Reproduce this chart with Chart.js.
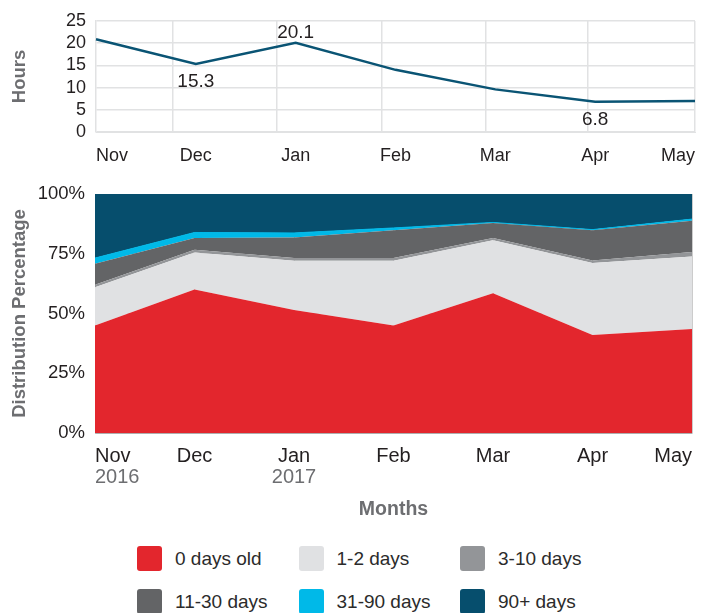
<!DOCTYPE html>
<html>
<head>
<meta charset="utf-8">
<script src="https://cdn.jsdelivr.net/npm/chart.js@4.4.0/dist/chart.umd.min.js"></script>
<style>
  body { margin: 0; background: #fff; width: 705px; height: 613px; overflow: hidden; position: relative; font-family: "Liberation Sans", Arial, sans-serif; }
  #hoursChart { position: absolute; left: 0; top: 0; }
  #distChart { position: absolute; left: 0; top: 180px; }
  .lg-item { position: absolute; display: flex; align-items: center; font-size: 19px; color: #2b2b2b; white-space: nowrap; }
  .lg-box { width: 25px; height: 25px; border-radius: 3px; margin-right: 13px; }
</style>
</head>
<body>
<canvas id="hoursChart" width="705" height="172"></canvas>
<canvas id="distChart" width="705" height="350"></canvas>
<div id="legend"></div>
<script>
// Data
const months = ["Nov", "Dec", "Jan", "Feb", "Mar", "Apr", "May"];
const years = ["2016", "", "2017", "", "", "", ""];
const hours = [20.9, 15.3, 20.1, 14.0, 9.6, 6.8, 7.0];
const labelledPoints = [1, 2, 5];

const seriesNames = ["0 days old", "1-2 days", "3-10 days", "11-30 days", "31-90 days", "90+ days"];
const days0 = [45, 60, 51.5, 45, 58.5, 41, 43.5];
const days1to2 = [16, 15.5, 20.6, 27.1, 22.1, 30.1, 30.4];
const days3to10 = [1, 1.2, 1.1, 1.1, 1, 1.1, 1.8];
const days11to30 = [8.8, 4.9, 8.6, 11.6, 6.3, 12.6, 13.1];
const days31to90 = [2.4, 2.3, 1.9, 1.0, 0.2, 0.3, 0.7];
const days90plus = [26.8, 16.1, 16.3, 14.2, 11.9, 14.9, 10.5];

// Styles
const seriesColors = ["#e3262d", "#e0e1e3", "#939598", "#636466", "#00b9e8", "#064e6d"];
const lineColor = "#0a5474";
const lightGrid = "#e1e2e3";
const textColor = "#231f20";
const titleColor = "#6d6e71";
const fontFamily = "'Liberation Sans', Arial, sans-serif";
const hoursGridStops = [0.77, 1.81, 2.86, 3.9, 4.93, 6];

Chart.defaults.font.family = fontFamily;

// Value labels on chosen points (above for peaks, below for dips)
const valueLabels = {
  id: "valueLabels",
  afterDatasetsDraw(chart) {
    const ctx = chart.ctx;
    const meta = chart.getDatasetMeta(0);
    ctx.save();
    ctx.font = "19px " + fontFamily;
    ctx.fillStyle = textColor;
    ctx.textAlign = "center";
    ctx.textBaseline = "middle";
    labelledPoints.forEach(i => {
      const pt = meta.data[i];
      const above = hours[i] > hours[i - 1] && hours[i] > hours[i + 1];
      ctx.fillText(hours[i].toFixed(1), pt.x, above ? pt.y - 10 : pt.y + 18);
    });
    ctx.restore();
  }
};

// keep the axis label overhang from pushing the plot area
const noOverhang = s => { s.paddingTop = 0; s.paddingBottom = 0; };

// Hours line chart
new Chart(document.getElementById("hoursChart"), {
  type: "line",
  data: {
    labels: months,
    datasets: [{ data: hours, borderColor: lineColor, borderWidth: 2.5, pointRadius: 0, tension: 0, fill: false }]
  },
  options: {
    responsive: false,
    animation: false,
    layout: { padding: { top: 21, right: 10, bottom: 0, left: 0 } },
    plugins: { legend: { display: false }, tooltip: { enabled: false } },
    scales: {
      x: {
        type: "category",
        afterFit: s => { s.height = 40; },
        grid: { display: false },
        border: { color: lightGrid },
        ticks: { align: "inner", padding: 5, color: textColor, font: { size: 18 }, maxRotation: 0 }
      },
      xg: {
        type: "linear",
        position: "bottom",
        min: 0, max: 6,
        afterBuildTicks: s => { s.ticks = hoursGridStops.map(v => ({ value: v })); },
        afterFit: s => { s.height = 0; },
        ticks: { display: false },
        grid: { color: lightGrid, lineWidth: 1.5, drawTicks: false },
        border: { display: false }
      },
      y: {
        min: 0, max: 25,
        afterFit: s => { s.width = 96; noOverhang(s); },
        ticks: { stepSize: 5, autoSkip: false, padding: 10, color: textColor, font: { size: 18 } },
        grid: { color: lightGrid, lineWidth: 1.5, drawTicks: false },
        border: { color: lightGrid, width: 1.5 },
        title: { display: true, text: "Hours", color: titleColor, padding: { top: 9, bottom: 0 }, font: { size: 18.5, weight: "bold" } }
      }
    }
  },
  plugins: [valueLabels]
});

// Distribution stacked area chart
const seriesData = [days0, days1to2, days3to10, days11to30, days31to90, days90plus];
const distChart = new Chart(document.getElementById("distChart"), {
  type: "line",
  data: {
    labels: months,
    datasets: seriesData.map((d, i) => ({
      label: seriesNames[i],
      data: d,
      backgroundColor: seriesColors[i],
      borderColor: seriesColors[i],
      borderWidth: i === 4 ? 1 : 0,
      pointRadius: 0,
      tension: 0,
      fill: i === 0 ? "origin" : "-1"
    }))
  },
  options: {
    responsive: false,
    animation: false,
    layout: { padding: { top: 14, right: 13, bottom: 9, left: 0 } },
    plugins: { legend: { display: false }, tooltip: { enabled: false } },
    scales: {
      x: {
        type: "category",
        z: 1,
        afterFit: s => { s.height = 35; },
        grid: { color: "rgba(0,0,0,0.2)", drawTicks: false },
        border: { color: "rgba(0,0,0,0.15)" },
        ticks: { align: "inner", padding: 11, color: textColor, font: { size: 20 }, maxRotation: 0 }
      },
      xYear: {
        type: "category",
        position: "bottom",
        labels: years,
        afterFit: s => { s.height = 53; },
        grid: { display: false, drawTicks: false },
        border: { display: false },
        ticks: { align: "inner", padding: -3, color: titleColor, font: { size: 20 }, maxRotation: 0, autoSkip: false },
        title: { display: true, text: "Months", color: titleColor, padding: { top: 13, bottom: 0 }, font: { size: 19.5, weight: "bold" } }
      },
      y: {
        stacked: true,
        z: 1,
        min: 0, max: 100,
        afterFit: s => { s.width = 95; noOverhang(s); },
        ticks: { stepSize: 25, autoSkip: false, padding: 10, color: textColor, font: { size: 18.5 }, callback: v => v + "%" },
        grid: { color: "rgba(0,0,0,0.2)", drawTicks: false },
        border: { color: "rgba(0,0,0,0.15)" },
        title: { display: true, text: "Distribution Percentage", color: titleColor, padding: { top: 9, bottom: 0 }, font: { size: 18.5, weight: "bold" } }
      }
    }
  }
});

// Legend, three columns
const legend = document.getElementById("legend");
distChart.data.datasets.forEach((ds, i) => {
  const item = document.createElement("div");
  item.className = "lg-item";
  item.style.left = (137 + (i % 3) * 161.5) + "px";
  item.style.top = (546 + Math.floor(i / 3) * 43) + "px";
  item.innerHTML = '<span class="lg-box" style="background:' + ds.backgroundColor + '"></span>' + ds.label;
  legend.appendChild(item);
});
</script>
</body>
</html>
